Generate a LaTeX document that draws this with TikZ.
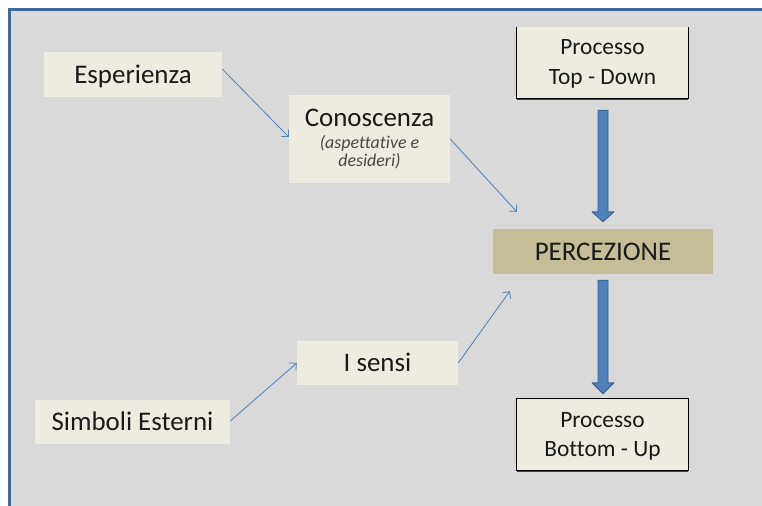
\documentclass[tikz,border=0pt]{standalone}
\usepackage{fontspec}
\setmainfont{Carlito}[Ligatures=NoCommon]
\usetikzlibrary{arrows.meta,calc}

\definecolor{panelgray}{HTML}{D9D9D9}
\definecolor{frameblue}{HTML}{41679B}
\definecolor{palebox}{HTML}{EEECE1}
\definecolor{tanbox}{HTML}{C4BD97}
\definecolor{linkblue}{HTML}{4F81BD}
\definecolor{linkdark}{HTML}{385D8A}
\definecolor{inktext}{HTML}{1A1A1A}

\tikzset{
  pale/.style={fill=palebox, draw=none, inner sep=0pt, text=inktext,
    font=\fontsize{27}{31}\selectfont, text height=17.4pt, text depth=0pt},
  percbox/.style={pale, fill=tanbox},
  procbox/.style={fill=palebox, draw=none, inner sep=0pt,
    minimum width=171bp, minimum height=71bp},
  proctext/.style={anchor=base, inner sep=0pt, text=inktext,
    font=\fontsize{23.5}{28}\selectfont},
  ittext/.style={anchor=base, inner sep=0pt, text=inktext!80,
    font=\fontsize{18}{21}\selectfont\itshape},
  boxline/.style={draw=black, line width=1.2bp},
  boxshadow/.style={draw=black!75, line width=1.6bp},
  bluelink/.style={draw=linkblue, line width=0.8bp,
    -{Straight Barb[length=5bp,width=10bp,line width=0.8bp]}},
  bigarrow/.style={fill=linkblue, draw=linkdark, line width=0.8bp, line join=round},
}

\begin{document}
\begin{tikzpicture}[x=1bp,y=-1bp]
\useasboundingbox (0,0) rectangle (762,506);
\fill[white] (0,0) rectangle (762,506);

% grey panel; its blue border shows only along the top and the left
\fill[panelgray] (9.5,9.5) rectangle (762,506);
\draw[frameblue, line width=3bp] (762,9.5) -- (9.5,9.5) -- (9.5,506);

% boxes
\node[pale, minimum width=178bp, minimum height=45bp] (esp) at (133,74.5) {Esperienza};
\node[pale, minimum width=161bp, minimum height=88bp] (con) at (369.5,139) {};
\node[pale, fill=none] (conT) at ($(con.center)+(0,-21)$) {Conoscenza};
\node[ittext] (conB) at ($(con.north)+(0,54)$) {(aspettative e};
\node[ittext] (conC) at ($(con.north)+(0,72)$) {desideri)};

\node[procbox] (td) at (602.5,62.5) {};
\node[proctext] (tdA) at ($(td.north)+(0,28)$) {Processo};
\node[proctext] (tdB) at ($(td.north)+(0,57.5)$) {Top - Down};

\node[percbox, minimum width=220bp, minimum height=45bp] (perc) at (603,251.5) {PERCEZIONE};

\node[procbox] (bu) at (602.5,434.5) {};
\node[proctext] (buA) at ($(bu.north)+(0,28.5)$) {Processo};
\node[proctext] (buB) at ($(bu.north)+(0,57.5)$) {Bottom - Up};

\node[pale, minimum width=195bp, minimum height=44bp] (sim) at (132.5,422) {Simboli Esterni};
\node[pale, minimum width=161bp, minimum height=44bp] (sen) at (377.5,363) {I sensi};

% outlines of the two process boxes (the upper one is open at the top)
\draw[boxshadow] ([yshift=-1.2bp]td.south west) -- ([yshift=-1.2bp]td.south east);
\draw[boxline] (td.north west) -- (td.south west) -- (td.south east) -- (td.north east);
\draw[boxshadow] ([yshift=-1.2bp]bu.south west) -- ([yshift=-1.2bp]bu.south east);
\draw[boxline] (bu.north west) rectangle (bu.south east);

% thin connectors
\draw[bluelink] ([yshift=5.5bp]esp.east) -- ([yshift=2bp]con.west);
\draw[bluelink] (con.east) -- ([xshift=24bp,yshift=17bp]perc.north west);
\draw[bluelink] ([yshift=1bp]sim.east) -- (sen.west);
\draw[bluelink] (sen.east) -- ([xshift=17bp,yshift=-17bp]perc.south west);

% thick block arrows
\coordinate (tdTail) at ($(td.south)+(0.5,12)$);
\coordinate (percTip) at ($(perc.north)+(0,-7)$);
\coordinate (percTail) at ($(perc.south)+(0,6)$);
\coordinate (buTip) at ($(bu.north)+(0.5,-5)$);

\draw[bigarrow] let \p1=(tdTail), \p2=(percTip) in
  (\x1-5bp,\y1) -- (\x1+5bp,\y1) -- (\x1+5bp,\y2+10bp) -- (\x1+11bp,\y2+10bp)
  -- (\x1,\y2) -- (\x1-11bp,\y2+10bp) -- (\x1-5bp,\y2+10bp) -- cycle;
\draw[bigarrow] let \p1=(percTail), \p2=(buTip) in
  (\x1-5bp,\y1) -- (\x1+5bp,\y1) -- (\x1+5bp,\y2+11bp) -- (\x1+11bp,\y2+11bp)
  -- (\x1,\y2) -- (\x1-11bp,\y2+11bp) -- (\x1-5bp,\y2+11bp) -- cycle;
\end{tikzpicture}
\end{document}
